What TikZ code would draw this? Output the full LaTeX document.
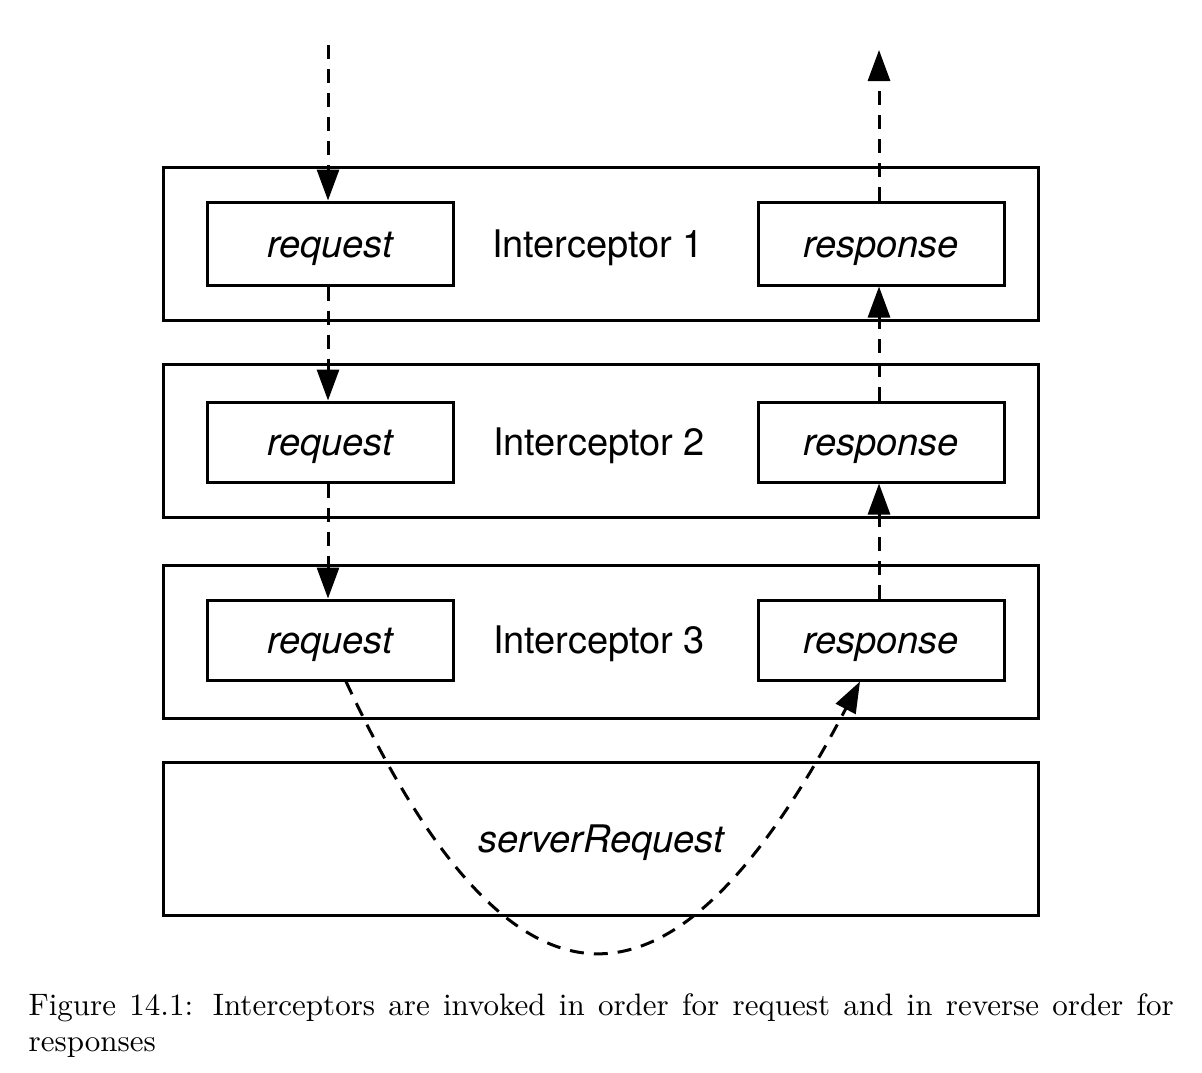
\documentclass[tikz,border=0pt]{standalone}
\usepackage{fontspec}
\setsansfont{TeX Gyre Heros}
\usetikzlibrary{arrows.meta}
\begin{document}
\begin{tikzpicture}[x=0.5pt,y=-0.5pt,
  txt/.style={font=\sffamily\fontsize{19}{22}\selectfont,text height=13.5pt,text depth=0pt,inner sep=0pt},
  itxt/.style={txt,font=\sffamily\itshape\fontsize{19}{22}\selectfont},
  outerbox/.style={draw,line width=1.5pt,minimum width=437.5pt,minimum height=76.5pt,inner sep=0pt},
  innerbox/.style={itxt,draw,line width=1.5pt,fill=white,minimum width=123pt},
  flow/.style={line width=1.5pt,dash pattern=on 7pt off 5pt,-{Triangle[length=15.5pt,width=11pt]}}]
\useasboundingbox (0,0) rectangle (1202,1072);
% outer boxes
\node[outerbox] (b1) at (600.5,243.5) {};
\node[outerbox] (b2) at (600.5,440.5) {};
\node[outerbox] (b3) at (600.5,641.5) {};
\node[outerbox] (b4) at (600.5,838.5) {};
% labels
\node[txt] (l1) at (598,243.5) {Interceptor 1};
\node[txt] (l2) at (599,442) {Interceptor 2};
\node[txt] (l3) at (599,640) {Interceptor 3};
\node[itxt] (l4) at (601,838.5) {serverRequest};
% inner boxes
\node[innerbox,minimum height=41.5pt] (r1) at (330,243.5) {request};
\node[innerbox,minimum height=41.5pt] (s1) at (881,243.5) {response};
\node[innerbox,minimum height=40pt] (r2) at (330,442) {request};
\node[innerbox,minimum height=40pt] (s2) at (881,442) {response};
\node[innerbox,minimum height=40pt] (r3) at (330,640) {request};
\node[innerbox,minimum height=40pt] (s3) at (881,640) {response};
% free ends
\coordinate (tin) at (328,45);
\coordinate (tout) at (879,50);
% request flow
\draw[flow] (tin) -- (tin |- r1.north);
\draw[flow] (tin |- r1.south) -- (tin |- r2.north);
\draw[flow] (tin |- r2.south) -- (tin |- r3.north);
% response flow
\draw[flow] (tout |- s3.north) -- (tout |- s2.south);
\draw[flow] (tout |- s2.north) -- (tout |- s1.south);
\draw[flow] (tout |- s1.north) -- (tout);
% curve through server
\draw[flow] ([xshift=8pt]r3.south) .. controls (513,1040) and (672,1040) .. ([xshift=-10.5pt]s3.south);
% caption
\node[anchor=north west,inner sep=0pt,scale=1.55,align=left] (cap) at (28,993)
  {\parbox{369.4pt}{\fontsize{10}{11.7}\selectfont Figure 14.1: Interceptors are invoked in order for request and in reverse order for\linebreak responses}};
\end{tikzpicture}
\end{document}
